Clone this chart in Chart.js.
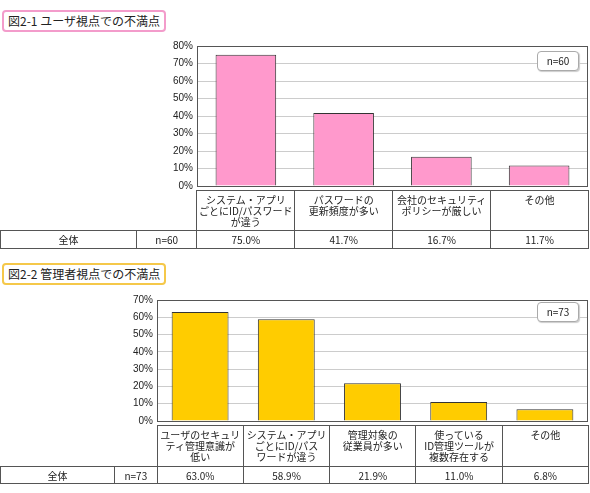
<!DOCTYPE html>
<html><head><meta charset="utf-8">
<script src="https://cdn.jsdelivr.net/npm/chart.js@4/dist/chart.umd.min.js"></script>
<style>
body{margin:0;background:#fff;font-family:"Noto Sans CJK JP",sans-serif;font-size:10px;color:#222;}
.abs{position:absolute;}
.title{position:absolute;border-radius:4px;padding:1px 4px;font-size:12px;line-height:16px;background:#fff;}
.nbox{position:absolute;border:1px solid #aaa;border-radius:4px;background:#fff;font-size:10px;text-align:center;line-height:18px;box-shadow:1px 1px 1px #ccc;}
table{position:absolute;border-collapse:collapse;font-size:10px;}
td{border:1px solid #555;text-align:center;padding:0;}
td.lab{vertical-align:top;line-height:11px;padding-top:3px;}
</style></head>
<body>
<div class="title" style="left:2px;top:10px;border:2px solid #f39ccb;">図2-1 ユーザ視点での不満点</div>
<div class="abs" style="left:150px;top:36px;width:440px;height:160px;"><canvas id="c1"></canvas></div>
<div class="nbox" style="left:537px;top:51px;width:40px;">n=60</div>
<table id="t1" style="left:0;top:190px;width:589px;"></table>

<div class="title" style="left:2px;top:263px;border:2px solid #f5c84a;">図2-2 管理者視点での不満点</div>
<div class="abs" style="left:110px;top:290px;width:480px;height:141px;"><canvas id="c2"></canvas></div>
<div class="nbox" style="left:537px;top:302px;width:40px;">n=73</div>
<table id="t2" style="left:0;top:425px;width:589px;"></table>
<script>
const userLabels = ['システム・アプリ<br>ごとにID/パスワード<br>が違う', 'パスワードの<br>更新頻度が多い', '会社のセキュリティ<br>ポリシーが厳しい', 'その他'];
const userValues = [75.0, 41.7, 16.7, 11.7];
const adminLabels = ['ユーザのセキュリ<br>ティ管理意識が<br>低い', 'システム・アプリ<br>ごとにID/パス<br>ワードが違う', '管理対象の<br>従業員が多い', '使っている<br>ID管理ツールが<br>複数存在する', 'その他'];
const adminValues = [63.0, 58.9, 21.9, 11.0, 6.8];

function makeChart(id, labels, values, color, max, barPct, h) {
  new Chart(document.getElementById(id), {
    type: 'bar',
    data: { labels: labels, datasets: [{ data: values, backgroundColor: color, borderColor: '#333', borderWidth: 1, barPercentage: barPct, categoryPercentage: 1 }] },
    options: {
      responsive: true, maintainAspectRatio: false, animation: false,
      layout: { padding: { top: 7, right: 2, bottom: 0 } },
      plugins: { legend: { display: false }, tooltip: { enabled: false } },
      scales: {
        x: { display: false },
        y: {
          min: 0, max: max,
          afterFit: s => { s.width = 47; },
          border: { color: '#555' },
          grid: { color: '#ccc', drawTicks: false },
          ticks: { stepSize: 10, padding: 4, color: '#222', font: { size: 10 }, callback: v => v + '%' }
        }
      }
    },
    plugins: [{ id: 'frame', afterDraw(c) { const a = c.chartArea, x = c.ctx; x.save(); x.strokeStyle = '#555'; x.lineWidth = 1; x.strokeRect(a.left + .5, a.top + .5, a.width - 1, a.height); x.restore(); } }]
  });
}
makeChart('c1', userLabels, userValues, '#ff99cc', 80, 0.62, 160);
makeChart('c2', adminLabels, adminValues, '#ffcc00', 70, 0.66, 141);

function makeTable(id, labels, values, n, w1, w2, labH, rowH) {
  const cw = (589 - w1 - w2) / labels.length;
  let h = '<tr style="height:' + labH + 'px"><td colspan="2" style="border:none;border-right:1px solid #555;width:' + (w1 + w2) + 'px"></td>';
  labels.forEach(l => h += '<td class="lab" style="width:' + cw + 'px">' + l + '</td>');
  h += '</tr><tr style="height:' + rowH + 'px"><td style="width:' + w1 + 'px">全体</td><td style="width:' + w2 + 'px">' + n + '</td>';
  values.forEach(v => h += '<td>' + v.toFixed(1) + '%</td>');
  document.getElementById(id).innerHTML = h + '</tr>';
}
makeTable('t1', userLabels, userValues, 'n=60', 137, 60, 40, 18);
makeTable('t2', adminLabels, adminValues, 'n=73', 115, 42, 41, 17);
</script>
</body></html>
